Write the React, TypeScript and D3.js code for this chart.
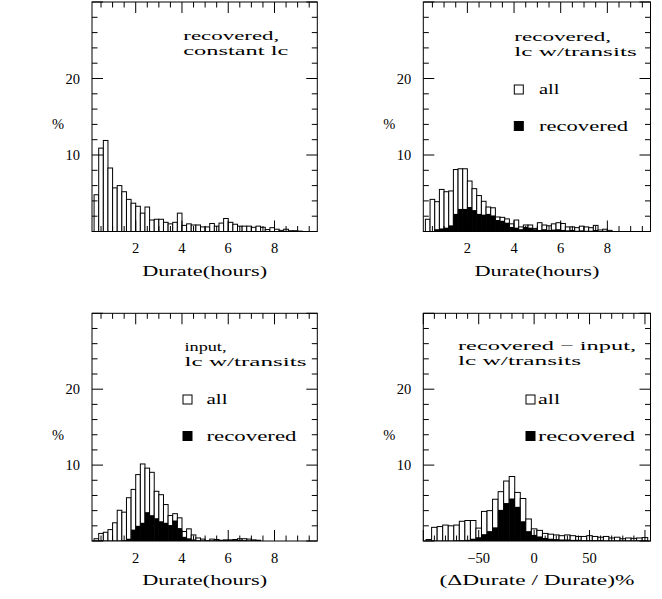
import React from "react";
import * as d3 from "d3";

// Duration histograms: 0.2-hour bins, first bin starts at 0.2 h (values in %)
const DUR_BIN = 0.2;
const DUR_FIRST = 0.2;
const constantLcAll = [4.8, 10.9, 11.9, 8.3, 5.7, 6.0, 5.2, 4.2, 3.7, 3.3, 2.4, 3.2, 1.5, 1.6, 1.6, 1.2, 1.0, 1.2, 2.4, 0.8, 1.0, 0.85, 0.85, 0.6, 0.6, 1.05, 0.7, 1.1, 1.7, 1.2, 0.95, 0.7, 0.7, 0.7, 0.55, 0.7, 0.55, 0.25, 0.5, 0.3, 0.15, 0.3, 0.1, 0.1, 0.05];
const transitRecAll = [1.6, 4.2, 3.9, 5.5, 5.2, 5.3, 8.1, 8.2, 8.2, 6.6, 5.6, 4.7, 3.95, 3.2, 3.1, 1.9, 1.85, 1.65, 1.0, 1.5, 0.6, 0.85, 0.85, 0.4, 1.15, 0.85, 0.75, 1.0, 1.15, 1.05, 0.6, 0.6, 0.5, 0.7, 0.6, 0.5, 0.8, 0.2, 0.3, 0.15];
const transitRecRec = [0, 0, 0.3, 0.4, 0.5, 0.8, 2.3, 2.95, 2.95, 3.2, 2.8, 2.3, 2.2, 2.3, 2.1, 1.5, 1.4, 1.15, 0.6, 0.5, 0.3, 0.6, 0.5, 0.3, 0.2, 0.3, 0.2, 0.25, 0.3, 0.2, 0.15, 0.2, 0.1, 0.15, 0.1, 0.1, 0.2, 0.05, 0.1, 0.05];
const inputAll = [0.3, 1.0, 1.15, 1.5, 2.4, 4.05, 3.8, 5.7, 6.8, 8.75, 10.15, 9.6, 9.05, 6.55, 6.1, 4.8, 3.35, 3.6, 3.05, 1.25, 1.6, 0.8, 0.4, 0.25, 0.05, 0.25, 0.2, 0.1, 0.15, 0.15, 0.2, 0.3, 0.3, 0.25, 0.15, 0.1];
const inputRec = [0, 0, 0, 0, 0, 0, 0.1, 0.3, 1.5, 2.0, 2.4, 3.8, 3.4, 3.0, 2.6, 2.4, 2.1, 2.7, 1.7, 0.55, 0.35, 0.2, 0.1, 0.05, 0, 0.05, 0.05, 0, 0.05, 0.05, 0.1, 0.15, 0.1, 0.05, 0, 0];

// Relative duration difference: 5% bins centred on multiples of 5, first bin centred on -95
const DIFF_BIN = 5;
const DIFF_FIRST = -97.5;
const diffAll = [0.2, 1.8, 1.9, 2.1, 2.0, 2.1, 2.6, 2.7, 2.7, 1.7, 3.9, 4.0, 5.5, 6.5, 7.9, 8.5, 6.4, 5.6, 2.9, 1.6, 1.4, 1.0, 0.9, 0.8, 0.7, 0.8, 0.7, 0.6, 0.6, 0.7, 0.6, 0.5, 0.6, 0.4, 0.5, 0.3, 0.4, 0.35, 0.4, 0.45];
const diffRec = [0, 0, 0, 0, 0, 0.05, 0.1, 0.15, 0.3, 0.5, 0.9, 1.3, 1.8, 4.1, 5.0, 5.6, 4.5, 2.6, 1.3, 0.8, 0.6, 0.4, 0.3, 0.25, 0.2, 0.2, 0.15, 0.15, 0.1, 0.1, 0.1, 0.1, 0.05, 0.05, 0.05, 0.05, 0.05, 0.05, 0.05, 0.05];

const durTickLabels = [2, 4, 6, 8];
const diffTickLabels = [-50, 0, 50];
const pctTickLabels = [10, 20];

const FONT = "Liberation Serif";

type Line = { text: string; w: number };

type PanelProps = {
  x0: number; x1: number; y0: number; y1: number;
  xDomain: [number, number];
  binFirst: number; binW: number;
  all: number[]; rec?: number[];
  minorStep: number; majorStep: number;
  tickLabels: number[];
  xLabel: string; xLabelW: number;
  note: { x: number; y: number; lines: Line[] };
  legend?: { sx: number; sy: number; tx: number; allW: number; recW: number };
  id: string;
};

const fmt = (v: number) => (v < 0 ? "\u2212" + Math.abs(v) : String(v));

function Panel(p: PanelProps) {
  const xs = d3.scaleLinear().domain(p.xDomain).range([p.x0, p.x1]);
  const ys = d3.scaleLinear().domain([0, 30]).range([p.y1, p.y0]);
  const MAJ = 11, MIN = 5.5;
  const xTicks: { v: number; major: boolean }[] = [];
  const start = Math.ceil(p.xDomain[0] / p.minorStep) * p.minorStep;
  for (let v = start; v <= p.xDomain[1] + 1e-9; v += p.minorStep) {
    const r = Math.round(v / p.minorStep) * p.minorStep;
    const major = Math.abs(r / p.majorStep - Math.round(r / p.majorStep)) < 1e-6;
    xTicks.push({ v: r, major });
  }
  const yTicks = d3.range(0, 31, 2).map((v) => ({ v, major: v % 10 === 0 }));
  const bars = (vals: number[], fill: string, stroke: boolean) =>
    vals.map((v, i) => {
      if (v <= 0) return null;
      const a = p.binFirst + i * p.binW;
      const xa = xs(a), xb = xs(a + p.binW);
      return (
        <rect key={fill + i} x={xa} y={ys(v)} width={xb - xa} height={ys(0) - ys(v)}
          fill={fill} stroke={stroke ? "#000" : "none"} strokeWidth={1} />
      );
    });
  const cx = (p.x0 + p.x1) / 2;
  const LINE = 15;
  return (
    <g>
      <defs>
        <clipPath id={p.id}>
          <rect x={p.x0} y={p.y0} width={p.x1 - p.x0} height={p.y1 - p.y0} />
        </clipPath>
      </defs>
      <g clipPath={`url(#${p.id})`}>
        {bars(p.all, "#fff", true)}
        {p.rec && bars(p.rec, "#000", false)}
      </g>
      <g stroke="#000" strokeWidth={1}>
        {xTicks.map((t, i) => (
          <g key={"xt" + i}>
            <line x1={xs(t.v)} x2={xs(t.v)} y1={p.y1} y2={p.y1 - (t.major ? MAJ : MIN)} />
            <line x1={xs(t.v)} x2={xs(t.v)} y1={p.y0} y2={p.y0 + (t.major ? MAJ : MIN)} />
          </g>
        ))}
        {yTicks.map((t, i) => (
          <g key={"yt" + i}>
            <line x1={p.x0} x2={p.x0 + (t.major ? MAJ : MIN)} y1={ys(t.v)} y2={ys(t.v)} />
            <line x1={p.x1} x2={p.x1 - (t.major ? MAJ : MIN)} y1={ys(t.v)} y2={ys(t.v)} />
          </g>
        ))}
        <rect x={p.x0} y={p.y0} width={p.x1 - p.x0} height={p.y1 - p.y0} fill="none" />
      </g>
      <g fontFamily={FONT} fontSize={14.5} fill="#000">
        {p.tickLabels.map((v) => (
          <text key={"xl" + v} x={xs(v)} y={p.y1 + 21.5} textAnchor="middle">{fmt(v)}</text>
        ))}
        {pctTickLabels.map((v) => (
          <text key={"yl" + v} x={p.x0 - 12} y={ys(v) + 5} textAnchor="end">{v}</text>
        ))}
        <text x={p.x0 - 34} y={p.y0 + 127} textAnchor="middle">%</text>
        <text x={cx - p.xLabelW / 2} y={p.y1 + 44} textLength={p.xLabelW} lengthAdjust="spacingAndGlyphs">
          {p.xLabel}
        </text>
      </g>
      <g fontFamily={FONT} fontSize={13.5} fill="#000">
        {p.note.lines.map((l, i) => (
          <text key={"n" + i} x={p.note.x} y={p.note.y + i * LINE} textLength={l.w} lengthAdjust="spacingAndGlyphs">
            {l.text}
          </text>
        ))}
      </g>
      {p.legend && (
        <g fontFamily={FONT} fontSize={15} fill="#000">
          <rect x={p.legend.sx} y={p.legend.sy} width={9} height={9} fill="#fff" stroke="#000" strokeWidth={1} />
          <rect x={p.legend.sx} y={p.legend.sy + 36.5} width={9} height={9} fill="#000" stroke="#000" strokeWidth={1} />
          <text x={p.legend.tx} y={p.legend.sy + 9.3} textLength={p.legend.allW} lengthAdjust="spacingAndGlyphs">all</text>
          <text x={p.legend.tx} y={p.legend.sy + 45.8} textLength={p.legend.recW} lengthAdjust="spacingAndGlyphs">recovered</text>
        </g>
      )}
    </g>
  );
}

export default function App() {
  const durDomain: [number, number] = [0.11, 9.85];
  return (
    <svg width={662} height={599} style={{ display: "block", position: "absolute", left: 0, top: 0, background: "#fff" }}>
      <rect x={0} y={0} width={662} height={599} fill="#fff" />
      <Panel id="c1" x0={92} x1={317.3} y0={2} y1={231.5} xDomain={durDomain}
        binFirst={DUR_FIRST} binW={DUR_BIN} all={constantLcAll}
        minorStep={0.5} majorStep={2} tickLabels={durTickLabels}
        xLabel="Durate(hours)" xLabelW={125}
        note={{ x: 183.3, y: 40.3, lines: [{ text: "recovered,", w: 96 }, { text: "constant lc", w: 105 }] }} />
      <Panel id="c2" x0={423.3} x1={650.5} y0={2} y1={231.5} xDomain={durDomain}
        binFirst={DUR_FIRST} binW={DUR_BIN} all={transitRecAll} rec={transitRecRec}
        minorStep={0.5} majorStep={2} tickLabels={durTickLabels}
        xLabel="Durate(hours)" xLabelW={125}
        note={{ x: 514.3, y: 40.5, lines: [{ text: "recovered,", w: 96.7 }, { text: "lc w/transits", w: 122.4 }] }}
        legend={{ sx: 514.3, sy: 85, tx: 539, allW: 20.5, recW: 89 }} />
      <Panel id="c3" x0={92} x1={317.3} y0={313.3} y1={541} xDomain={durDomain}
        binFirst={DUR_FIRST} binW={DUR_BIN} all={inputAll} rec={inputRec}
        minorStep={0.5} majorStep={2} tickLabels={durTickLabels}
        xLabel="Durate(hours)" xLabelW={125}
        note={{ x: 184.5, y: 351.3, lines: [{ text: "input,", w: 42 }, { text: "lc w/transits", w: 122 }] }}
        legend={{ sx: 183, sy: 395, tx: 206.5, allW: 21, recW: 90 }} />
      <Panel id="c4" x0={423.3} x1={650.5} y0={313.3} y1={541} xDomain={[-100, 105]}
        binFirst={DIFF_FIRST} binW={DIFF_BIN} all={diffAll} rec={diffRec}
        minorStep={10} majorStep={50} tickLabels={diffTickLabels}
        xLabel={"(\u0394Durate / Durate)%"} xLabelW={195}
        note={{ x: 458, y: 349.5, lines: [{ text: "recovered \u2212 input,", w: 178 }, { text: "lc w/transits", w: 123 }] }}
        legend={{ sx: 526, sy: 395, tx: 538, allW: 22, recW: 97 }} />
    </svg>
  );
}
